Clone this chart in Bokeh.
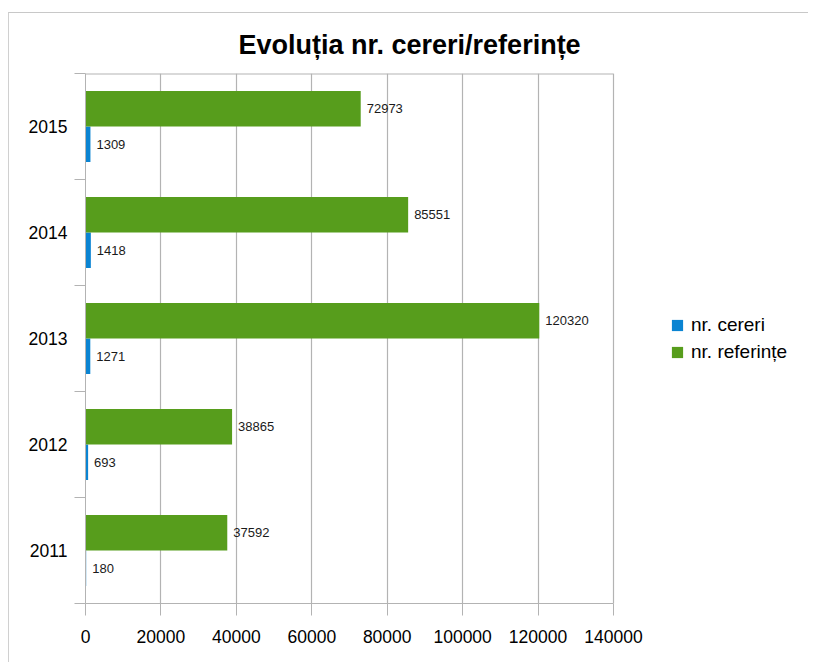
from bokeh.plotting import figure
from bokeh.models import (ColumnDataSource, Range1d, LinearAxis,
                          FixedTicker, LabelSet, Legend, LegendItem, Title, Grid,
                          BasicTickFormatter)
from bokeh.transform import dodge
from bokeh.core.properties import value
from bokeh.embed import file_html
from bokeh.resources import INLINE

# ---- data ----
years = ["2011", "2012", "2013", "2014", "2015"]
cereri = [180, 693, 1271, 1418, 1309]
referinte = [37592, 38865, 120320, 85551, 72973]
x_ticks = [0, 20000, 40000, 60000, 80000, 100000, 120000, 140000]
title_text = "Evoluția nr. cereri/referințe"
series_names = ["nr. cereri", "nr. referințe"]
colors = ["#0a84d2", "#579d1c"]

GRAY = "#b3b3b3"
FONT = "Liberation Sans"

n = len(years)
ypos = [i + 0.5 for i in range(n)]          # category centres
bounds = list(range(n + 1))                  # category boundaries

# layout: the visible axis area is 528 px wide; the frame extends further right
# so that the legend (drawn inside the frame) is not clipped.
AXIS_PX = 528
FRAME_PX = 720
x_end = x_ticks[-1] * FRAME_PX / AXIS_PX

src = ColumnDataSource(dict(
    year=years, ypos=ypos, cereri=cereri, referinte=referinte,
    cereri_lbl=[str(v) for v in cereri],
    referinte_lbl=[str(v) for v in referinte],
))

p = figure(width=800, height=650,
           y_range=Range1d(0, n), x_range=Range1d(x_ticks[0], x_end),
           output_backend="svg", toolbar_location=None,
           x_axis_location=None, y_axis_location=None,
           min_border_left=76, min_border_top=60, min_border_right=800 - 76 - FRAME_PX,
           min_border_bottom=60)
p.margin = (12, 0, 0, 8)
p.styles = {"border-top": "1px solid #c8c8c8", "border-left": "1px solid #d0d0d0"}
p.outline_line_color = None
p.background_fill_color = "white"
p.border_fill_color = "white"
for g in p.grid:
    g.visible = False

# x axis
xaxis = LinearAxis(ticker=FixedTicker(ticks=x_ticks),
                   formatter=BasicTickFormatter(use_scientific=False),
                   bounds=(x_ticks[0], x_ticks[-1]),
                   axis_line_color=GRAY, major_tick_line_color=GRAY,
                   major_tick_in=0, major_tick_out=12, minor_tick_line_color=None,
                   major_label_text_font_size="17.5px", major_label_text_font=FONT,
                   major_label_text_color="#000000", major_label_standoff=14)
p.add_layout(xaxis, "below")
p.add_layout(Grid(dimension=0, axis=xaxis, grid_line_color=GRAY, grid_line_width=1.2))

# top edge of the plot area
p.segment(x0=[x_ticks[0]], x1=[x_ticks[-1]], y0=[n], y1=[n], line_color=GRAY, line_width=2)

# y axis: labels at category centres, ticks at category boundaries
yaxis = LinearAxis(ticker=FixedTicker(ticks=ypos, minor_ticks=bounds),
                   major_label_overrides={yv: yr for yv, yr in zip(ypos, years)},
                   axis_line_color=GRAY, major_tick_line_color=None,
                   major_tick_out=0, major_tick_in=0,
                   minor_tick_line_color=GRAY, minor_tick_out=11, minor_tick_in=0,
                   major_label_standoff=7,
                   major_label_text_font_size="17.5px", major_label_text_font=FONT,
                   major_label_text_color="#000000")
p.add_layout(yaxis, "left")

# bars
off = 0.168
r1 = p.hbar(y=dodge("ypos", -off), left=0, right="cereri", height=0.335,
            source=src, fill_color=colors[0], line_color=None)
r2 = p.hbar(y=dodge("ypos", off), left=0, right="referinte", height=0.335,
            source=src, fill_color=colors[1], line_color=None)

lab_kw = dict(x_offset=6, text_baseline="middle", text_font_size="13px",
              text_font=value(FONT), text_color="#1a1a1a")
p.add_layout(LabelSet(x="cereri", y=dodge("ypos", -off), text="cereri_lbl",
                      source=src, **lab_kw))
p.add_layout(LabelSet(x="referinte", y=dodge("ypos", off), text="referinte_lbl",
                      source=src, **lab_kw))

legend = Legend(items=[LegendItem(label=series_names[0], renderers=[r1]),
                       LegendItem(label=series_names[1], renderers=[r2])],
                location=(585, 240), orientation="vertical",
                border_line_color=None, background_fill_alpha=0,
                padding=0, margin=0, spacing=5,
                glyph_width=14, glyph_height=14, label_standoff=7,
                label_text_font_size="19px", label_text_font=FONT, label_text_color="#000000")
p.add_layout(legend, "center")

p.add_layout(Title(text=title_text, align="left", offset=153, text_font_size="27px",
                   text_font_style="bold", text_font=FONT, text_color="#000000",
                   standoff=28), "above")

open("out.html", "w").write(file_html(p, INLINE))
